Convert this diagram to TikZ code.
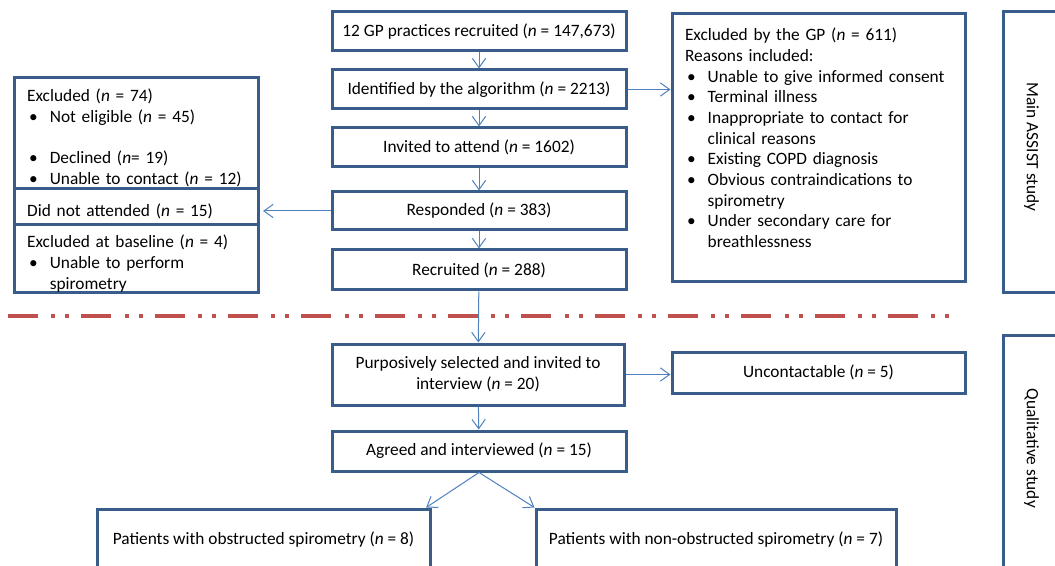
\documentclass[tikz,border=0pt]{standalone}
\usepackage{fontspec}
\setmainfont{Carlito}
\usepackage{tikz}
\usetikzlibrary{arrows.meta}
\definecolor{boxblue}{RGB}{56, 93, 138}
\definecolor{flowblue}{RGB}{79, 129, 189}
\definecolor{cutred}{RGB}{192, 80, 77}
\newcommand{\bitem}{\makebox[17pt][l]{\hspace{1.5pt}\textbullet}}
\newcommand{\bcont}{\hspace*{17pt}}
\newcommand{\toppad}[1]{\rule{0pt}{#1}}

\begin{document}
\begin{tikzpicture}[x=0.75pt,y=0.75pt,yscale=-1,xscale=1,
  stage/.style={draw=boxblue, line width=2.25pt, fill=white, inner sep=0pt, align=center, font=\fontsize{13}{15.5}\selectfont},
  boxsize/.style 2 args={minimum width=#1*0.75pt, minimum height=#2*0.75pt},
  listbox/.style={stage, align=left, inner xsep=9.75pt},
  flow/.style={draw=flowblue, line width=0.75pt, -{Straight Barb[length=7pt,width=10pt]}}]
\useasboundingbox (0,0) rectangle (1055,566);

%Dash Dot Line
\coordinate (cutL) at (8,316);
\coordinate (cutR) at (952,316);
\draw [cutred, line width=3pt, dash pattern={on 22.5pt off 10pt on 3pt off 7.5pt on 3pt off 9pt}] (cutL) -- (cutR);

% Main column
\node [stage, boxsize={294}{39}] (gp) at (479,31.5) {12 GP practices recruited (\textit{n} = 147,673)};
\node [stage, boxsize={294}{39}] (ident) at (479,89.5) {Identified by the algorithm (\textit{n} = 2213)};
\node [stage, boxsize={294}{39}] (invite) at (479,147.5) {Invited to attend (\textit{n} = 1602)};
\node [stage, boxsize={294}{38}] (resp) at (479,211) {Responded (\textit{n} = 383)};
\node [stage, boxsize={294}{40}] (recruit) at (479,270) {Recruited (\textit{n} = 288)};
\node [stage, boxsize={292}{61}] (purp) at (478,374.5) {Purposively selected and invited to\\interview (\textit{n} = 20)};
\node [stage, boxsize={294}{40}] (agreed) at (479,451) {Agreed and interviewed (\textit{n} = 15)};
\node [stage, boxsize={333}{62}] (obs) at (263.5,540) {Patients with obstructed spirometry (\textit{n} = 8)};
\node [stage, boxsize={360}{62}] (nonobs) at (716,540) {Patients with non-obstructed spirometry (\textit{n} = 7)};

% Left exclusions
\node [listbox, text width=164pt, minimum height=111*0.75pt] (excl) at (136.5,133.5) {\toppad{15.75pt}Excluded (\textit{n} = 74)\\
  \bitem Not eligible (\textit{n} = 45)\\[15.5pt]
  \bitem Declined (\textit{n}= 19)\\
  \bitem Unable to contact (\textit{n} = 12)};
\node [listbox, text width=164pt, minimum height=40*0.75pt] (dna) at (136.5,209) {\toppad{12.75pt}Did not attended (\textit{n} = 15)};
\node [listbox, text width=164pt, minimum height=59*0.75pt] (base) at (136.5,258.5) {\toppad{17.25pt}Excluded at baseline (\textit{n} = 4)\\
  \bitem Unable to perform\\
  \bcont spirometry};

% Right exclusions
\node [listbox, text width=200.25pt, minimum height=268*0.75pt] (excgp) at (818.5,148) {Excluded by the GP (\textit{n} = 611)\\
  Reasons included:\\
  \bitem Unable to give informed consent\\
  \bitem Terminal illness\\
  \bitem Inappropriate to contact for\\
  \bcont clinical reasons\\
  \bitem Existing COPD diagnosis\\
  \bitem Obvious contraindications to\\
  \bcont spirometry\\
  \bitem Under secondary care for\\
  \bcont breathlessness\\
  \mbox{}};
\node [stage, boxsize={293}{41}] (uncont) at (818.5,372.5) {Uncontactable (\textit{n} = 5)};

% Study labels
\node [stage, rotate=-90, boxsize={281}{57}] (mainlbl) at (1031.5,152.5) {Main ASSIST study\hspace*{8pt}};
\node [stage, rotate=-90, boxsize={236}{57}] (quallbl) at (1031.5,453) {Qualitative study\hspace*{7pt}};

%Straight Lines
\draw [flow] (gp) -- (ident);
\draw [flow] (ident) -- (invite);
\draw [flow] (invite) -- (resp);
\draw [flow] (resp) -- (recruit);
\draw [flow] (recruit) -- (purp);
\draw [flow] (purp) -- (agreed);
\draw [flow] (ident.east) -- (ident.east -| excgp.west);
\draw [flow] (resp.west) -- ([xshift=2pt]resp.west -| dna.east);
\draw [flow] (purp.east) -- (purp.east -| uncont.west);
\draw [flow] (agreed.south) -- ([xshift=-4pt]obs.north east);
\draw [flow] (agreed.south) -- (nonobs.north west);

\end{tikzpicture}
\end{document}
